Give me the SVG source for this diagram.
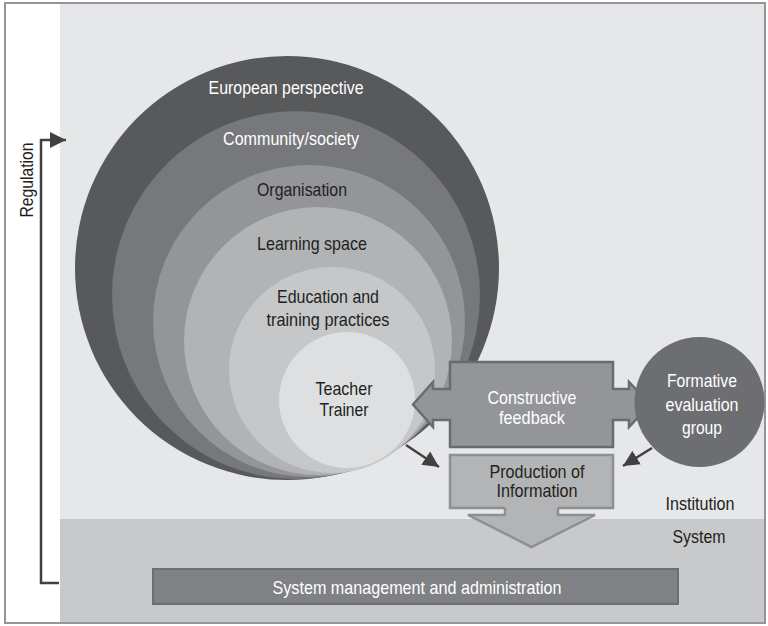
<svg xmlns="http://www.w3.org/2000/svg" width="768" height="626" viewBox="0 0 768 626">
<style>
text{font-family:"Liberation Sans",Arial,sans-serif;font-size:19px;text-anchor:middle}
.w{fill:#ffffff}
.k{fill:#231f20}
.con{stroke:#414042;stroke-width:2.5;fill:none}
</style>
<defs>
<marker id="ah" markerUnits="userSpaceOnUse" markerWidth="18" markerHeight="16" refX="16" refY="8" orient="auto">
<path d="M0,0 L16,8 L0,16 Z" fill="#414042"/>
</marker>
</defs>
<rect x="0" y="0" width="768" height="626" fill="#ffffff"/>
<rect x="60" y="3" width="706" height="516" fill="#e6e7e8"/>
<rect x="60" y="519" width="706" height="104" fill="#c8c9cb"/>
<rect x="5" y="3" width="760" height="620" fill="none" stroke="#939598" stroke-width="2"/>
<g id="regulation">
<text class="k" transform="translate(33,180) rotate(-90)" textLength="75" lengthAdjust="spacingAndGlyphs">Regulation</text>
</g>
<g id="circles">
<circle cx="287" cy="268" r="212" fill="#58595b"/>
<circle cx="296" cy="295" r="184" fill="#77787b"/>
<circle cx="309" cy="321" r="156" fill="#939598"/>
<circle cx="318" cy="341" r="134" fill="#b1b3b5"/>
<circle cx="332" cy="370" r="103" fill="#c6c7c9"/>
<circle cx="347" cy="400" r="68" fill="#dedfe0"/>
<text class="w" x="286" y="94" textLength="155" lengthAdjust="spacingAndGlyphs">European perspective</text>
<text class="w" x="291" y="145" textLength="136" lengthAdjust="spacingAndGlyphs">Community/society</text>
<text class="k" x="302" y="196" textLength="90" lengthAdjust="spacingAndGlyphs">Organisation</text>
<text class="k" x="312" y="250" textLength="110" lengthAdjust="spacingAndGlyphs">Learning space</text>
<text class="k" x="328" y="303" textLength="102" lengthAdjust="spacingAndGlyphs">Education and</text>
<text class="k" x="328" y="326" textLength="123" lengthAdjust="spacingAndGlyphs">training practices</text>
<text class="k" x="344" y="395" textLength="57" lengthAdjust="spacingAndGlyphs">Teacher</text>
<text class="k" x="344" y="416" textLength="49" lengthAdjust="spacingAndGlyphs">Trainer</text>
</g>
<g id="constructive-feedback">
<path d="M450,362 L613,362 L613,389 L629,389 L629,382 L650,404.5 L629,427 L629,420 L613,420 L613,447 L450,447 L450,420 L433,420 L433,427 L413,404.5 L433,382 L433,389 L450,389 Z" fill="#939598" stroke="#6a6b6e" stroke-width="2.5" stroke-linejoin="miter"/>
<text class="w" x="532" y="404" textLength="89" lengthAdjust="spacingAndGlyphs">Constructive</text>
<text class="w" x="532" y="424" textLength="66" lengthAdjust="spacingAndGlyphs">feedback</text>
</g>
<g id="formative-evaluation-group">
<circle cx="699.5" cy="402" r="65" fill="#6d6e71"/>
<text class="w" x="702" y="387" textLength="70" lengthAdjust="spacingAndGlyphs">Formative</text>
<text class="w" x="702" y="411" textLength="73" lengthAdjust="spacingAndGlyphs">evaluation</text>
<text class="w" x="702" y="434" textLength="40" lengthAdjust="spacingAndGlyphs">group</text>
</g>
<g id="production-of-information">
<rect x="450" y="455" width="163" height="53" fill="#b3b4b6" stroke="#8e8f92" stroke-width="2.5"/>
<path d="M505,505 L505,515 L468,515 L531.5,547 L595,515 L558,515 L558,505 Z" fill="#b3b4b6"/>
<path d="M505,508 L505,515 L468,515 L531.5,547 L595,515 L558,515 L558,508" fill="none" stroke="#8e8f92" stroke-width="2.5"/>
<text class="k" x="537" y="478" textLength="95" lengthAdjust="spacingAndGlyphs">Production of</text>
<text class="k" x="537" y="497" textLength="81" lengthAdjust="spacingAndGlyphs">Information</text>
</g>
<g id="institution-label">
<text class="k" x="700" y="510" textLength="69" lengthAdjust="spacingAndGlyphs">Institution</text>
</g>
<g id="system-label">
<text class="k" x="699" y="543" textLength="53" lengthAdjust="spacingAndGlyphs">System</text>
</g>
<g id="system-management">
<rect x="153" y="569" width="525" height="35" fill="#808184" stroke="#6d6e71" stroke-width="2"/>
<text class="w" x="417" y="594" textLength="289" lengthAdjust="spacingAndGlyphs">System management and administration</text>
</g>
<g id="connectors">
<path class="con" d="M59,583 L41,583 L41,140 L66,140" marker-end="url(#ah)"/>
<path class="con" d="M406,445 L439,467" marker-end="url(#ah)"/>
<path class="con" d="M652,448 L623,466" marker-end="url(#ah)"/>
</g>
</svg>
